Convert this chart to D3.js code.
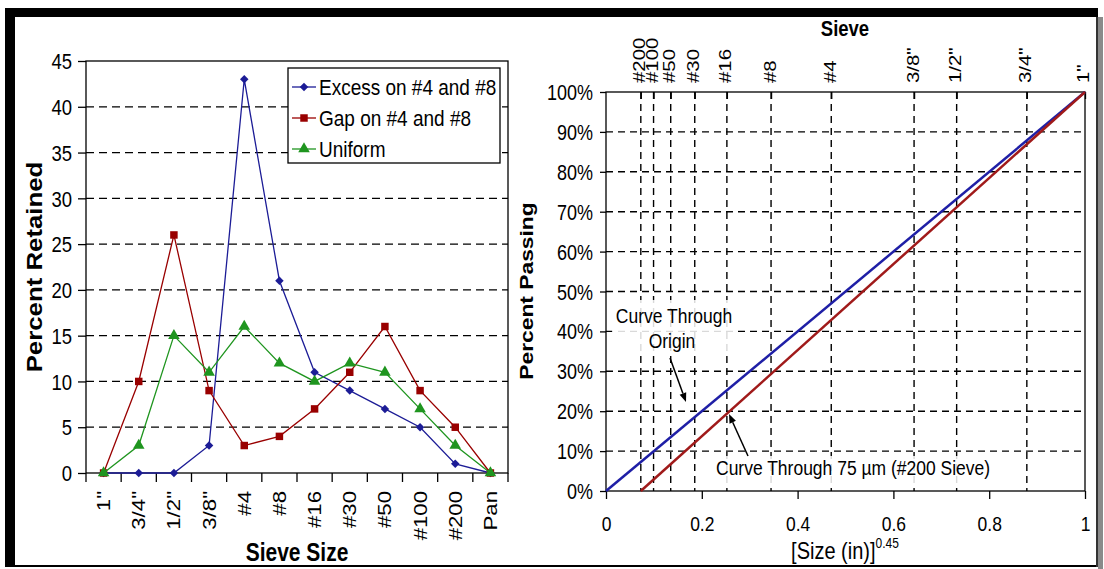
<!DOCTYPE html>
<html><head><meta charset="utf-8">
<script src="https://cdn.jsdelivr.net/npm/d3@7"></script>
<style>
body{margin:0;background:#fff}
svg{display:block}
text{font-family:"Liberation Sans",Arial,Helvetica,sans-serif;fill:#000}
</style>
</head><body>
<svg id="c" width="1104" height="569"></svg>
<script>
// ---------- data ----------
const sieves = ['1"','3/4"','1/2"','3/8"','#4','#8','#16','#30','#50','#100','#200','Pan'];
const excess  = [0,0,0,3,43,21,11,9,7,5,1,0];
const gapGrad = [0,10,26,9,3,4,7,11,16,9,5,0];
const uniform = [0,3,15,11,16,12,10,12,11,7,3,0];
const seriesNames = ['Excess on #4 and #8','Gap on #4 and #8','Uniform'];
const retainedTicks = [0,5,10,15,20,25,30,35,40,45];

const topSieveLabels = ['#200','#100','#50','#30','#16','#8','#4','3/8"','1/2"','3/4"','1"'];
const topSieveSizes  = [0.00295,0.0059,0.0117,0.0236,0.0469,0.0937,0.187,0.375,0.5,0.75,1]; // inches
const passingTicks = [0,10,20,30,40,50,60,70,80,90,100];
const sizeTicks = [0,0.2,0.4,0.6,0.8,1];
const originSizes = [0,1], originPassing = [0,100];
const through200Sizes = [0.00295,1], through200Passing = [0,100];

// ---------- setup ----------
const SY = 1.2; // vertical text stretch of the original picture
const svg = d3.select('#c');
svg.append('rect').attr('width',1104).attr('height',569).attr('fill','#fff');

function txt(g, x, y, s, o={}) {
  const t = g.append('text')
    .attr('transform', `translate(${x},${y}) scale(1,${SY})` + (o.rot ? ` rotate(${o.rot})` : ''))
    .attr('font-size', o.size || 18)
    .attr('text-anchor', o.anchor || 'start')
    .attr('font-weight', o.bold ? 'bold' : 'normal')
    .text(s);
  if (o.dy) t.attr('dy', o.dy);
  return t;
}

// ---------- left chart ----------
const L = svg.append('g');
const xL = d3.scaleBand().domain(sieves).range([86,508]);
const yL = d3.scaleLinear().domain([0,45]).range([473,61]);
const bw = xL.bandwidth();
const cx = d => xL(d) + bw/2;

L.selectAll('.gl').data(retainedTicks.filter(t => t>0 && t<45)).enter().append('line')
  .attr('x1',86).attr('x2',508).attr('y1',d=>yL(d)).attr('y2',d=>yL(d))
  .attr('stroke','#000').attr('stroke-width',1.3).attr('stroke-dasharray','8,5');

const yAxL = L.append('g').attr('transform','translate(86,0)')
  .call(d3.axisLeft(yL).tickValues(retainedTicks).tickSize(8).tickPadding(6));
yAxL.select('.domain').remove();
yAxL.selectAll('line').attr('stroke','#000').attr('stroke-width',1.3);
yAxL.selectAll('text').attr('font-size',18.5).attr('fill','#000')
  .attr('font-family','"Liberation Sans",Arial,sans-serif')
  .attr('transform',`scale(1,${SY})`).attr('dy','0.35em');

// boundary ticks of the category axis
const bounds = sieves.map(d => xL(d)).concat([xL.range()[1]]);
L.selectAll('.bt').data(bounds).enter().append('line')
  .attr('x1',d=>d).attr('x2',d=>d).attr('y1',473).attr('y2',482)
  .attr('stroke','#000').attr('stroke-width',1.3);

const xAxL = L.append('g').attr('transform','translate(0,473)')
  .call(d3.axisBottom(xL).tickSize(0));
xAxL.select('.domain').remove();
xAxL.selectAll('text').attr('font-size',18.5).attr('fill','#000')
  .attr('font-family','"Liberation Sans",Arial,sans-serif')
  .attr('y',0).attr('x',-15).attr('dy','0.35em').attr('text-anchor','end')
  .attr('transform',`scale(1,${SY}) rotate(-90)`);

L.append('rect').attr('x',86).attr('y',61).attr('width',422).attr('height',412)
  .attr('fill','none').attr('stroke','#000').attr('stroke-width',1.3);

const colors = ['#1c1c96','#990000','#1f951f'];
const sets = [excess, gapGrad, uniform];
const line = d3.line().x(d=>cx(d.k)).y(d=>yL(d.v));
const sym = [d3.symbol(d3.symbolSquare, 36), d3.symbol(d3.symbolSquare, 56), d3.symbol(d3.symbolTriangle, 58)];
function marker(g, i, x, y) {
  g.append('path').attr('d', sym[i]())
    .attr('transform', `translate(${x},${y})` + (i===0 ? ' rotate(45)' : ''))
    .attr('fill', colors[i]);
}
sets.forEach((vals, i) => {
  const pts = vals.map((v,j) => ({k:sieves[j], v}));
  L.append('path').datum(pts).attr('d',line).attr('fill','none')
    .attr('stroke',colors[i]).attr('stroke-width',1.3);
  pts.forEach(p => marker(L, i, cx(p.k), yL(p.v)));
});

// legend
const lg = L.append('g');
lg.append('rect').attr('x',288).attr('y',68).attr('width',212).attr('height',95)
  .attr('fill','#fff').attr('stroke','#000').attr('stroke-width',1.3);
seriesNames.forEach((n,i) => {
  const y = 87 + i*31;
  lg.append('line').attr('x1',292).attr('x2',316).attr('y1',y).attr('y2',y)
    .attr('stroke',colors[i]).attr('stroke-width',1.3);
  marker(lg, i, 304, y);
  txt(lg, 319, y, n, {size:19, dy:'0.35em'});
});

txt(L, 34, 267, 'Percent Retained', {size:21.5, bold:true, anchor:'middle', rot:-90, dy:'0.35em'});
txt(L, 297, 561, 'Sieve Size', {size:21, bold:true, anchor:'middle'});

// ---------- right chart ----------
const R = svg.append('g');
const xR = d3.scaleLinear().domain([0,1]).range([606,1085]);
const sR = d3.scalePow().exponent(0.45).domain([0,1]).range([606,1085]);
const yR = d3.scaleLinear().domain([0,100]).range([491,92]);

R.selectAll('.gh').data(passingTicks.filter(t=>t>0&&t<100)).enter().append('line')
  .attr('x1',606).attr('x2',1085).attr('y1',d=>yR(d)).attr('y2',d=>yR(d))
  .attr('stroke','#000').attr('stroke-width',1.4).attr('stroke-dasharray','7,5');
R.selectAll('.gv').data(topSieveSizes.filter(s=>s<1)).enter().append('line')
  .attr('x1',d=>sR(d)).attr('x2',d=>sR(d)).attr('y1',92).attr('y2',491)
  .attr('stroke','#000').attr('stroke-width',1.4).attr('stroke-dasharray','7,5');

const yAxR = R.append('g').attr('transform','translate(606,0)')
  .call(d3.axisLeft(yR).tickValues(passingTicks).tickFormat(d=>d+'%').tickSize(6).tickPadding(7));
yAxR.select('.domain').remove();
yAxR.selectAll('line').attr('stroke','#000').attr('stroke-width',1.3);
yAxR.selectAll('text').attr('font-size',18).attr('fill','#000')
  .attr('font-family','"Liberation Sans",Arial,sans-serif')
  .attr('transform',`scale(1,${SY})`).attr('dy','0.35em');

const xAxR = R.append('g').attr('transform','translate(0,491)')
  .call(d3.axisBottom(xR).tickValues(sizeTicks).tickFormat(d=>String(d)).tickSize(8));
xAxR.select('.domain').remove();
xAxR.selectAll('line').attr('stroke','#000').attr('stroke-width',1.3);
xAxR.selectAll('text').attr('font-size',17.5).attr('fill','#000')
  .attr('font-family','"Liberation Sans",Arial,sans-serif')
  .attr('y',0).attr('dy',0).attr('transform',`translate(0,40) scale(1,${SY})`);

const xAxT = R.append('g').attr('transform','translate(0,92)')
  .call(d3.axisTop(sR).tickValues(topSieveSizes).tickFormat((d,i)=>topSieveLabels[i]).tickSize(-7));
xAxT.select('.domain').remove();
xAxT.selectAll('line').attr('stroke','#000').attr('stroke-width',1.3);
xAxT.selectAll('text').attr('font-size',17).attr('fill','#000')
  .attr('font-family','"Liberation Sans",Arial,sans-serif')
  .attr('x',0).attr('y',0).attr('dy','0.35em').attr('text-anchor','start')
  .attr('transform',`translate(-2,-9) scale(1,${SY}) rotate(-90)`);

R.append('rect').attr('x',606).attr('y',92).attr('width',479).attr('height',399)
  .attr('fill','none').attr('stroke','#000').attr('stroke-width',1.3);

const lineR = d3.line().x(d=>sR(d[0])).y(d=>yR(d[1]));
R.append('path').datum(d3.zip(originSizes, originPassing)).attr('d',lineR)
  .attr('fill','none').attr('stroke','#1f1fa6').attr('stroke-width',2.5);
R.append('path').datum(d3.zip(through200Sizes, through200Passing)).attr('d',lineR)
  .attr('fill','none').attr('stroke','#a01a1a').attr('stroke-width',2.5);

// annotations
R.append('rect').attr('x',612).attr('y',300).attr('width',124).attr('height',56)
  .attr('fill','#fff').attr('fill-opacity',0.85);
R.append('rect').attr('x',713).attr('y',456).attr('width',288).attr('height',28)
  .attr('fill','#fff').attr('fill-opacity',0.85);
txt(R, 674, 323, 'Curve Through', {size:17.5, anchor:'middle'});
txt(R, 672, 348, 'Origin', {size:17.5, anchor:'middle'});
txt(R, 716, 475, 'Curve Through 75 \u00b5m (#200 Sieve)', {size:17.5});

function arrow(x1,y1,x2,y2) {
  const a = Math.atan2(y2-y1, x2-x1), hl = 9, hw = 3.5;
  const bx = x2 - hl*Math.cos(a), by = y2 - hl*Math.sin(a);
  R.append('line').attr('x1',x1).attr('y1',y1).attr('x2',bx).attr('y2',by)
    .attr('stroke','#000').attr('stroke-width',1.5);
  R.append('path').attr('d',`M${x2},${y2}L${bx + hw*Math.sin(a)},${by - hw*Math.cos(a)}L${bx - hw*Math.sin(a)},${by + hw*Math.cos(a)}Z`)
    .attr('fill','#000');
}
arrow(670,358,686,402);
arrow(748,456,729,414);

txt(R, 526, 291, 'Percent Passing', {size:19, bold:true, anchor:'middle', rot:-90, dy:'0.35em'});
txt(R, 845, 36, 'Sieve', {size:18.5, bold:true, anchor:'middle'});
const xt = txt(R, 845, 559, '[Size (in)]', {size:20, anchor:'middle'});
xt.append('tspan').attr('font-size',12).attr('dy',-9).text('0.45');

// ---------- outer frame of the picture ----------
svg.append('rect').attr('x',5).attr('y',8).attr('width',1093).attr('height',9).attr('fill','#000');
svg.append('rect').attr('x',5).attr('y',8).attr('width',10).attr('height',559).attr('fill','#000');
svg.append('rect').attr('x',5).attr('y',565).attr('width',1093).attr('height',2).attr('fill','#000');
svg.append('rect').attr('x',1096).attr('y',17).attr('width',2).attr('height',550).attr('fill','#333');
svg.append('rect').attr('x',1098).attr('y',17).attr('width',5).attr('height',552).attr('fill','#8a8a8a');
</script>
</body></html>
